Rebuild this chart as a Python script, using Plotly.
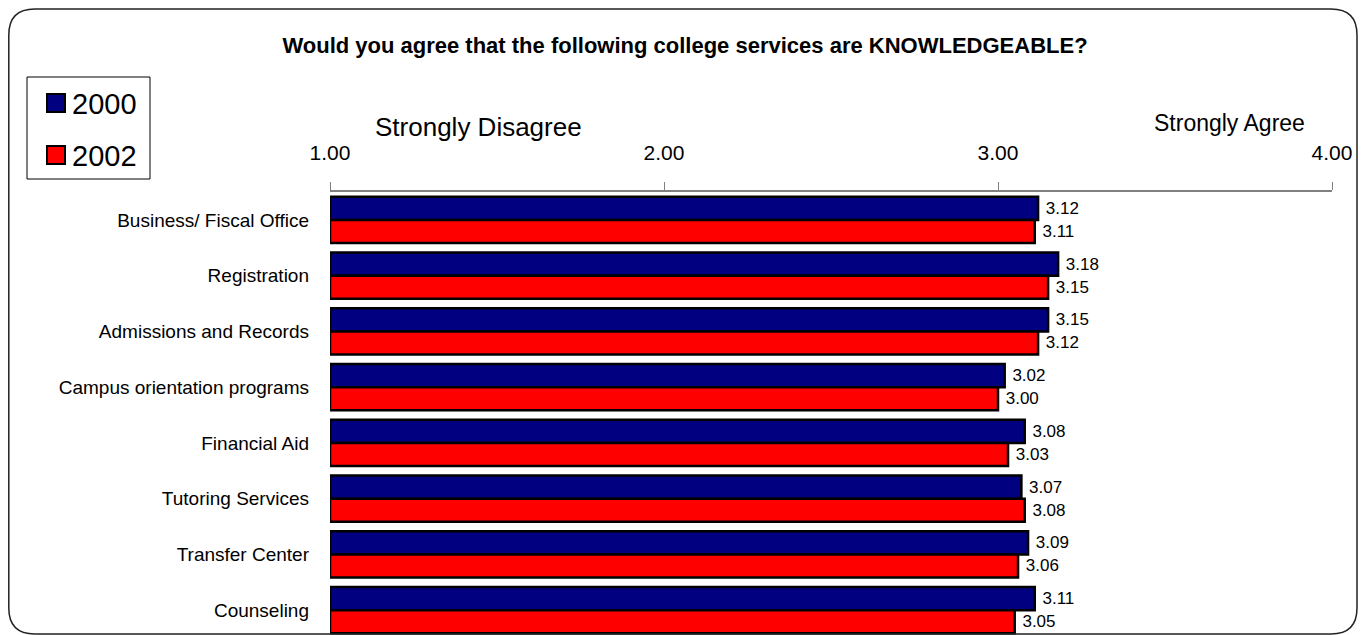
import plotly.graph_objects as go

categories = ["Business/ Fiscal Office", "Registration", "Admissions and Records",
              "Campus orientation programs", "Financial Aid", "Tutoring Services",
              "Transfer Center", "Counseling"]
values_2000 = [3.12, 3.18, 3.15, 3.02, 3.08, 3.07, 3.09, 3.11]
values_2002 = [3.11, 3.15, 3.12, 3.00, 3.03, 3.08, 3.06, 3.05]
series_names = ["2000", "2002"]
tick_values = [1, 2, 3, 4]
tick_labels = ["1.00", "2.00", "3.00", "4.00"]
scale_base = 1.0

W, H = 1368, 635
OFF = 8  # page body margin
ML, MR, MT, MB = 322, 44, 184, 5
PW, PH = W - ML - MR, H - MT - MB


def px(sx):
    """screen x -> paper x"""
    return (sx - OFF - ML) / PW


def py(sy):
    """screen y -> paper y"""
    return (H - MB - (sy - OFF)) / PH


SANS = "Liberation Sans, Arial, sans-serif"

fig = go.Figure()
colors = ["#000080", "#FF0000"]
for name, vals, col in zip(series_names, [values_2000, values_2002], colors):
    fig.add_trace(go.Bar(
        y=categories, x=[v - scale_base for v in vals], base=scale_base,
        orientation="h", name=name, showlegend=False,
        marker=dict(color=col, line=dict(color="black", width=2.5)),
        text=[f"\u00a0{v:.2f}" for v in vals], textposition="outside",
        textfont=dict(family=SANS, size=17, color="black"),
        constraintext="none", cliponaxis=False,
    ))

# rounded border
x0, x1, y0, y1, r = 8.8, 1357, 9, 634, 26
path = (f"M {px(x0+r)},{py(y0)} L {px(x1-r)},{py(y0)} Q {px(x1)},{py(y0)} {px(x1)},{py(y0+r)} "
        f"L {px(x1)},{py(y1-r)} Q {px(x1)},{py(y1)} {px(x1-r)},{py(y1)} "
        f"L {px(x0+r)},{py(y1)} Q {px(x0)},{py(y1)} {px(x0)},{py(y1-r)} "
        f"L {px(x0)},{py(y0+r)} Q {px(x0)},{py(y0)} {px(x0+r)},{py(y0)} Z")
fig.add_shape(type="path", path=path, xref="paper", yref="paper",
              line=dict(color="#222222", width=1.5), layer="above")

# legend box (drawn)
fig.add_shape(type="rect", xref="paper", yref="paper",
              x0=px(27), x1=px(150), y0=py(77), y1=py(179),
              line=dict(color="black", width=1), fillcolor="white")
for i, (name, col) in enumerate(zip(series_names, colors)):
    cy = 103 + 52 * i
    fig.add_shape(type="rect", xref="paper", yref="paper",
                  x0=px(47), x1=px(65), y0=py(cy - 9), y1=py(cy + 9),
                  line=dict(color="black", width=2), fillcolor=col)
    fig.add_annotation(text=name, x=px(70), y=py(cy + 1), xref="paper", yref="paper",
                       showarrow=False, xanchor="left", yanchor="middle",
                       font=dict(family=SANS, size=29, color="black"))

fig.add_annotation(text="Strongly Disagree", x=px(478), y=py(127), xref="paper", yref="paper",
                   showarrow=False, xanchor="center", yanchor="middle",
                   font=dict(family=SANS, size=26, color="black"))
fig.add_annotation(text="Strongly Agree", x=px(1229), y=py(123), xref="paper", yref="paper",
                   showarrow=False, xanchor="center", yanchor="middle",
                   font=dict(family=SANS, size=23, color="black"))

fig.update_layout(
    width=W, height=H,
    margin=dict(l=ML, r=MR, t=MT, b=MB),
    paper_bgcolor="white", plot_bgcolor="white",
    barmode="group", bargap=0.17, bargroupgap=0,
    showlegend=False,
    title=dict(text="Would you agree that the following college services are KNOWLEDGEABLE?",
               x=(685 - OFF) / W, xanchor="center", y=1 - (45 - OFF) / H, yanchor="middle",
               font=dict(family=SANS, size=22, color="black", weight="bold")),
    xaxis=dict(side="top", range=[1, 4], tickvals=tick_values, ticktext=tick_labels,
               showgrid=False, zeroline=False, showline=True, linecolor="#808080", linewidth=2,
               ticks="outside", ticklen=8, tickcolor="#808080", tickwidth=1,
               tickfont=dict(family=SANS, size=21, color="black"),
               ticklabelstandoff=14),
    yaxis=dict(autorange=False, range=[7.5, -0.5], showgrid=False, zeroline=False,
               showline=False, ticks="", ticklabelstandoff=20,
               tickfont=dict(family=SANS, size=19, color="black")),
)

fig.write_html("out.html")
